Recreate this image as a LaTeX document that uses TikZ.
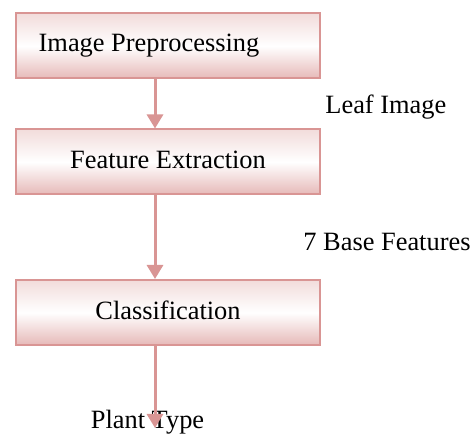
\documentclass[tikz,border=0pt]{standalone}
\usepackage{fontspec}
\setmainfont{Liberation Serif}
\usetikzlibrary{arrows.meta}
\definecolor{boxline}{HTML}{D99594}
\definecolor{boxtop}{HTML}{F2DCDB}
\definecolor{boxbot}{HTML}{E6B9B8}
\tikzset{
  stage/.style={draw=boxline, line width=1pt, minimum width=152pt, minimum height=32.5pt,
    shading=axis, top color=boxtop, bottom color=boxbot, middle color=white,
    font=\fontsize{13.2}{15}\selectfont, inner sep=0pt},
  flow/.style={draw=boxline, line width=1.5pt, -{Triangle[length=7pt,width=8pt]}},
  lbl/.style={font=\fontsize{13.2}{15}\selectfont, inner sep=0pt}
}
\begin{document}
\begin{tikzpicture}[x=0.5pt,y=-0.5pt]
\useasboundingbox (0,0) rectangle (476,437);
\node[stage] (pre) at (168,46) {\raisebox{2pt}{Image Preprocessing}\hspace*{19pt}};
\node[stage] (fe) at (168,162) {\raisebox{2pt}{Feature Extraction}};
\node[stage] (cl) at (168,312.5) {\raisebox{2pt}{Classification}};
\coordinate (out) at (155,428);
\node[lbl, anchor=west] (leaf) at (325,107) {Leaf Image};
\node[lbl, anchor=west] (base) at (303,242) {7 Base Features};
\node[lbl] (plant) at (147.5,422) {Plant Type};
\draw[flow] (pre.south -| out) -- (fe.north -| out);
\draw[flow] (fe.south -| out) -- (cl.north -| out);
\draw[flow] (cl.south -| out) -- (out);
\end{tikzpicture}
\end{document}
